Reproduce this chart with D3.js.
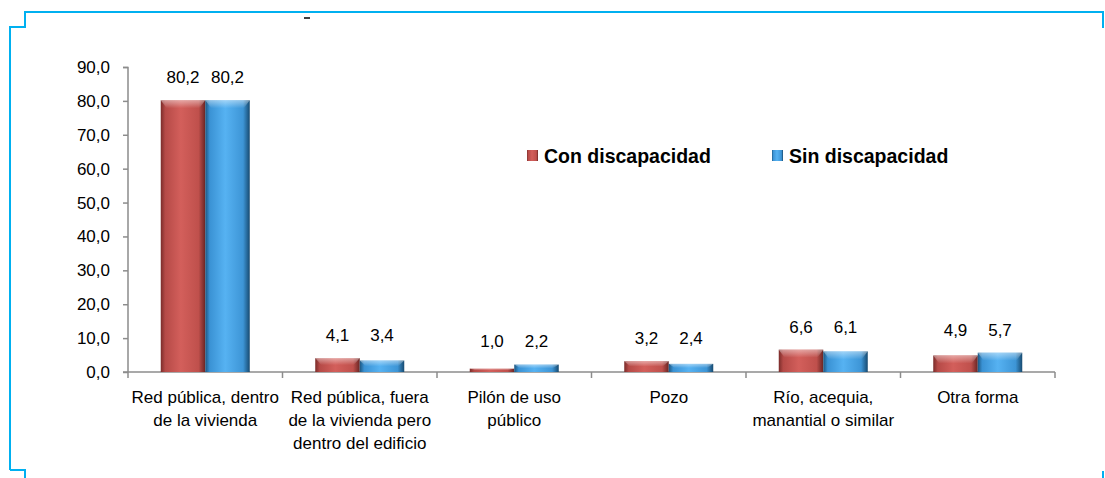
<!DOCTYPE html>
<html><head><meta charset="utf-8">
<script src="https://cdn.jsdelivr.net/npm/d3@7"></script>
<style>html,body{margin:0;padding:0;background:#fff;}svg{display:block;}</style>
</head><body>
<svg id="c" width="1105" height="478"></svg>
<script>
const categories = [
  ["Red pública, dentro","de la vivienda"],
  ["Red pública, fuera","de la vivienda pero","dentro del edificio"],
  ["Pilón de uso","público"],
  ["Pozo"],
  ["Río, acequia,","manantial o similar"],
  ["Otra forma"]
];
const seriesNames = ["Con discapacidad","Sin discapacidad"];
const conDisc = [80.2, 4.1, 1.0, 3.2, 6.6, 4.9];
const sinDisc = [80.2, 3.4, 2.2, 2.4, 6.1, 5.7];
const yTicks = [0,10,20,30,40,50,60,70,80,90];

const svg = d3.select("#c");
const font = "'Liberation Sans', Arial, sans-serif";
const axisCol = "#8c8c8c";

// frame
const frameCol = "#00b0f0";
svg.append("path")
  .attr("d","M10,470 L10,27 L25,27 L25,12 L1103,12 L1103,28")
  .attr("fill","none").attr("stroke",frameCol).attr("stroke-width",2);
svg.append("path").attr("d","M10,470 L25,470 L25,478")
  .attr("fill","none").attr("stroke",frameCol).attr("stroke-width",2);
svg.append("path").attr("d","M1103,471 L1103,478")
  .attr("fill","none").attr("stroke",frameCol).attr("stroke-width",2);
svg.append("line").attr("x1",304).attr("x2",310).attr("y1",18).attr("y2",18)
  .attr("stroke","#000").attr("stroke-width",1.5);

// defs
const defs = svg.append("defs");
function hgrad(id, stops){
  const g = defs.append("linearGradient").attr("id",id).attr("x1","0").attr("x2","1").attr("y1","0").attr("y2","0");
  stops.forEach(s=>g.append("stop").attr("offset",s[0]).attr("stop-color",s[1]));
}
hgrad("gRed",[["0%","#7a2c2a"],["10%","#b54a47"],["45%","#d35f5b"],["85%","#bf504c"],["100%","#6a2523"]]);
hgrad("gBlue",[["0%","#1c5680"],["10%","#3a92d4"],["45%","#56b2f2"],["85%","#3d95d6"],["100%","#174a70"]]);
function vgrad(id, stops){
  const g = defs.append("linearGradient").attr("id",id).attr("x1","0").attr("x2","0").attr("y1","0").attr("y2","1");
  stops.forEach(s=>g.append("stop").attr("offset",s[0]).attr("stop-color",s[1][0]).attr("stop-opacity",s[1][1]));
}
vgrad("gTop",[["0%",["#ffffff",0.45]],["100%",["#ffffff",0]]]);

const x0 = d3.scaleBand().domain(d3.range(categories.length)).range([128,1055]).paddingInner(0).paddingOuter(0);
const x1 = d3.scaleBand().domain([0,1]).range([0,x0.bandwidth()]).paddingInner(0).paddingOuter(0.736);
const y = d3.scaleLinear().domain([0,90]).range([372,67]);

// y axis
const yAxis = d3.axisLeft(y).tickValues(yTicks).tickSize(5).tickPadding(13)
  .tickFormat(d=>d3.format(".1f")(d).replace(".",","));
const gy = svg.append("g").attr("transform","translate(128,0)").call(yAxis);
gy.select(".domain").attr("stroke",axisCol).attr("stroke-width",1.5).attr("d","M-5,67.5H0V372");
gy.selectAll(".tick line").attr("stroke",axisCol).attr("stroke-width",1.5);
gy.selectAll(".tick text").attr("font-family",font).attr("font-size",17).attr("fill","#000");

// x axis
svg.append("line").attr("x1",123).attr("x2",1055).attr("y1",372).attr("y2",372)
  .attr("stroke",axisCol).attr("stroke-width",1.5);
const bounds = d3.range(categories.length+1).map(i=> i<categories.length ? x0(i) : x0(i-1)+x0.bandwidth());
svg.selectAll(".xt").data(bounds).enter().append("line")
  .attr("x1",d=>d).attr("x2",d=>d).attr("y1",372).attr("y2",378)
  .attr("stroke",axisCol).attr("stroke-width",1.5);

// bars
const data = categories.map((c,i)=>({i, vals:[conDisc[i], sinDisc[i]]}));
const grads = ["url(#gRed)","url(#gBlue)"];
const groups = svg.selectAll(".grp").data(data).enter().append("g")
  .attr("transform",d=>`translate(${x0(d.i)},0)`);
groups.each(function(d){
  const g = d3.select(this);
  const gmax = d3.max(d.vals);
  d.vals.forEach((v,s)=>{
    const bx = x1(s), bw = x1.bandwidth(), by = y(v), bh = y(0)-y(v);
    g.append("rect").attr("x",bx).attr("y",by).attr("width",bw).attr("height",bh).attr("fill",grads[s]);
    const th = Math.min(8, bh/2);
    g.append("path")
      .attr("d",`M${bx},${by} L${bx+bw},${by} L${bx+bw-6},${by+th} L${bx+6},${by+th} Z`)
      .attr("fill","url(#gTop)");
    g.append("text").attr("x",bx+bw/2).attr("y",y(gmax)-23).attr("dy","0.35em")
      .attr("text-anchor","middle").attr("font-family",font).attr("font-size",17).attr("fill","#000")
      .text(d3.format(".1f")(v).replace(".",","));
  });
});

// category labels
svg.selectAll(".cl").data(categories).enter().append("text")
  .attr("x",(d,i)=>x0(i)+x0.bandwidth()/2).attr("y",397)
  .attr("text-anchor","middle").attr("font-family",font).attr("font-size",17).attr("fill","#000")
  .each(function(d){
    const t = d3.select(this);
    d.forEach((line,k)=>t.append("tspan").attr("x",t.attr("x")).attr("dy",k===0?"0.35em":"23").text(line));
  });

// legend
const legX = [527, 772];
const legFill = ["url(#gRed)","url(#gBlue)"];
seriesNames.forEach((n,s)=>{
  svg.append("rect").attr("x",legX[s]).attr("y",150).attr("width",11).attr("height",11).attr("fill",legFill[s]);
  svg.append("text").attr("x",legX[s]+17).attr("y",156).attr("dy","0.35em")
    .attr("font-family",font).attr("font-size",19.5).attr("font-weight","bold").attr("fill","#000").text(n);
});
</script>
</body></html>
